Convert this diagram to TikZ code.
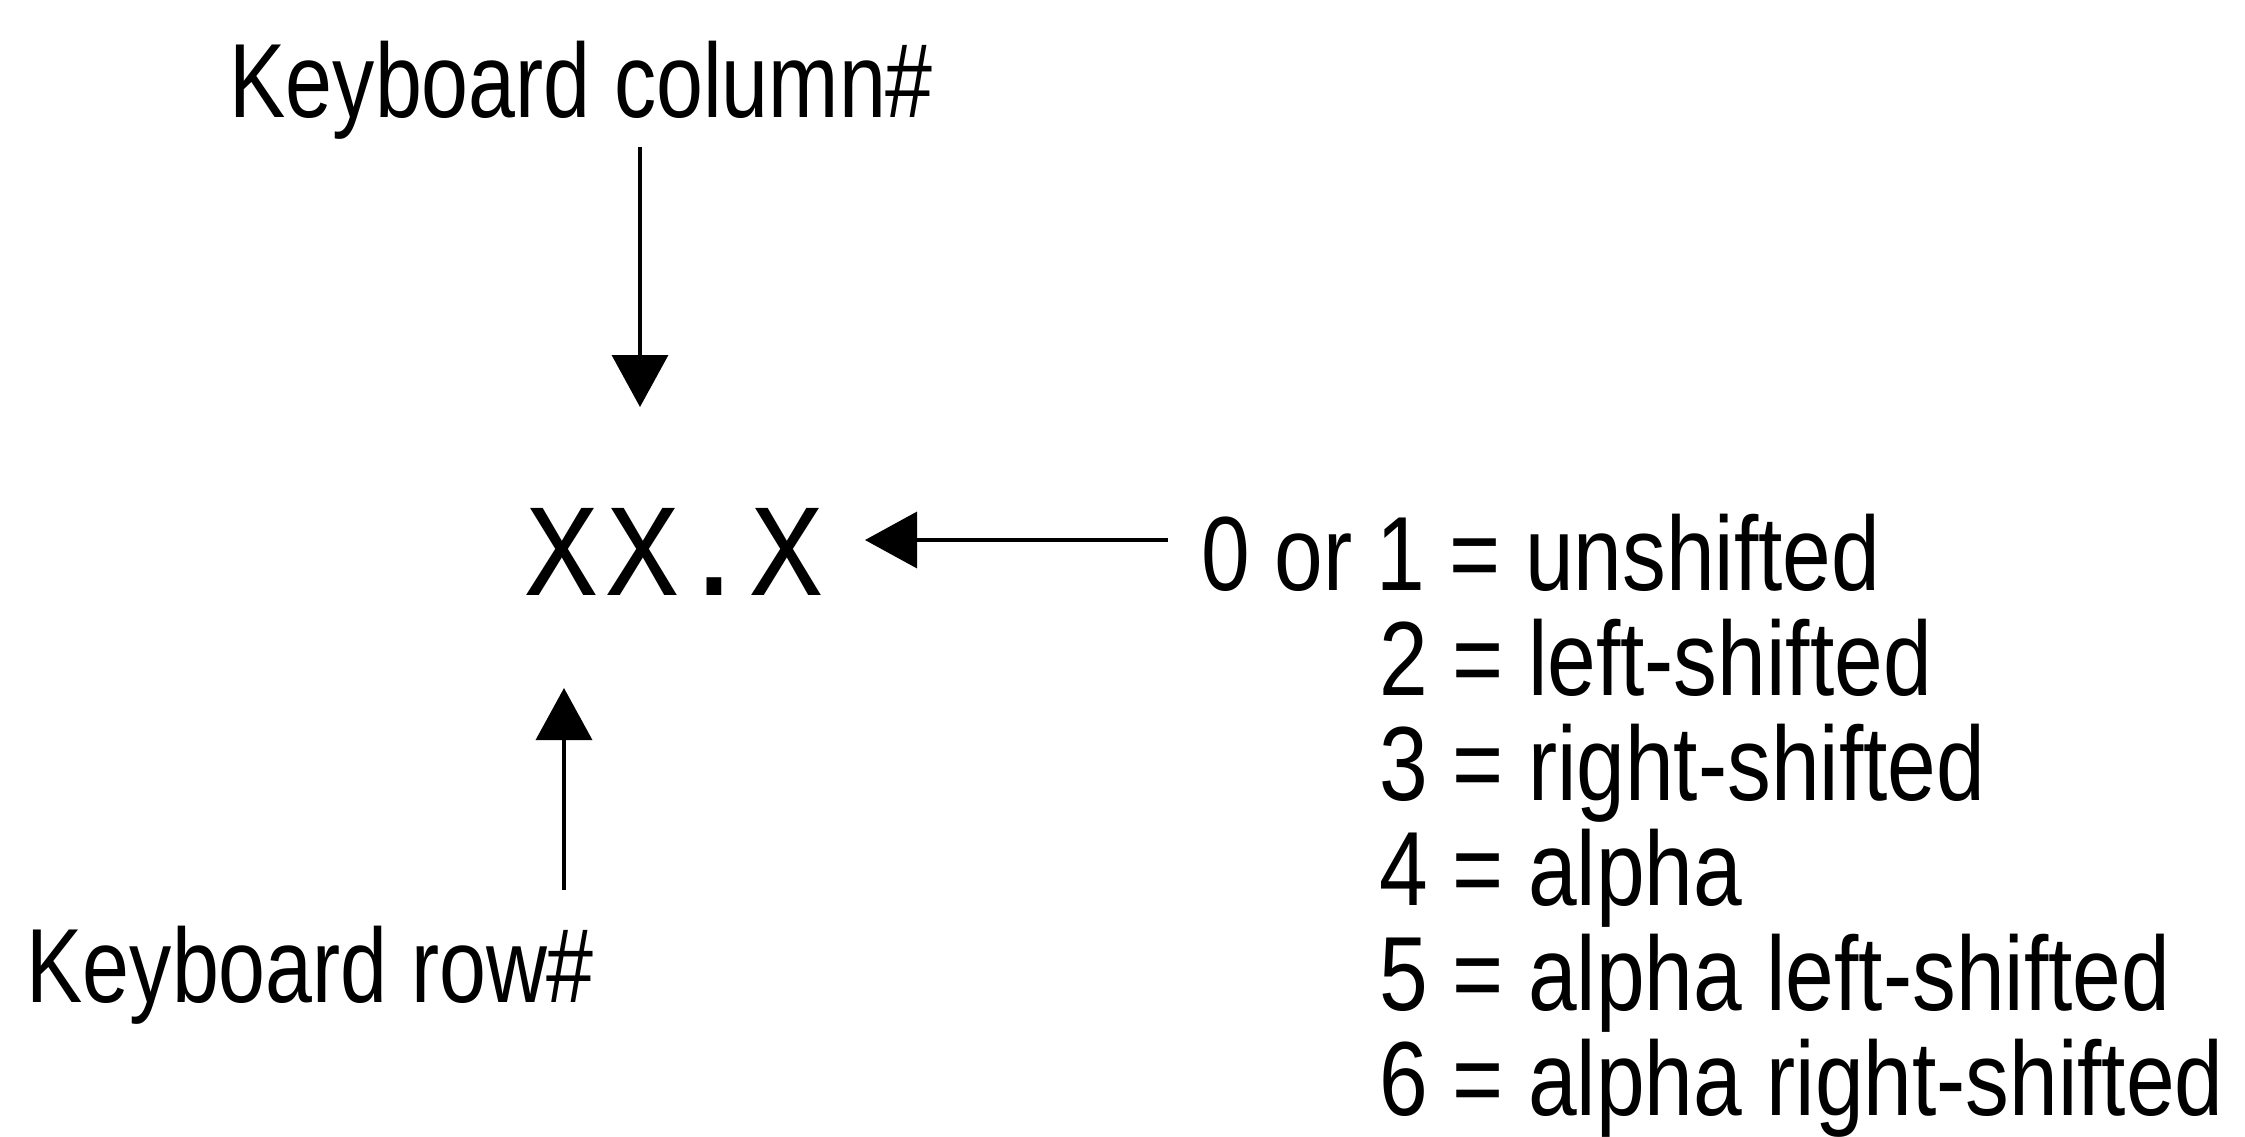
\documentclass[tikz,border=0pt]{standalone}
\usepackage{fontspec}
\setmainfont{Liberation Sans}[FakeStretch=0.8]
\newfontfamily\valfont{Liberation Sans}[FakeStretch=0.83]
\newfontfamily\codefont{DejaVu Sans Mono}
\usetikzlibrary{arrows.meta}
\begin{document}
\begin{tikzpicture}[
  lbl/.style={inner sep=0pt, anchor=base west, font=\fontsize{30}{36}\selectfont},
  val/.style={inner sep=0pt, anchor=base west, font=\valfont\fontsize{30}{36}\selectfont},
  codetxt/.style={inner sep=0pt, anchor=base west, font=\codefont\fontsize{34}{40}\selectfont},
  ptr/.style={line width=1pt, -{Triangle[length=0.52cm,width=0.56cm]}}
]
\fill[white] (0,0) rectangle (22.45,-11.36);
\useasboundingbox (0,0) rectangle (22.45,-11.36);

\node[lbl] (colLabel) at (2.29,-1.17) {Keyboard column\#};
\node[lbl] (rowLabel) at (0.26,-10.02) {Keyboard row\#};
\node[codetxt] (code) at (5.25,-5.95) {X\kern2.5pt X.X};

\node[val] (v1) at (12.01,-5.90) {0 or 1 = unshifted};
\node[val] (v2) at (13.79,-6.95) {2 = left-shifted};
\node[val] (v3) at (13.79,-8.00) {3 = right-shifted};
\node[val] (v4) at (13.79,-9.05) {4 = alpha};
\node[val] (v5) at (13.79,-10.10) {5 = alpha left-shifted};
\node[val] (v6) at (13.79,-11.15) {6 = alpha right-shifted};

\coordinate (colStart) at (6.40,-1.47);
\coordinate (colEnd) at (6.40,-4.07);
\coordinate (rowStart) at (5.64,-8.90);
\coordinate (rowEnd) at (5.64,-6.88);
\coordinate (valStart) at (11.68,-5.40);
\coordinate (valEnd) at (8.65,-5.40);

\draw[ptr] (colStart) -- (colEnd);
\draw[ptr] (rowStart) -- (rowEnd);
\draw[ptr] (valStart) -- (valEnd);
\end{tikzpicture}
\end{document}
